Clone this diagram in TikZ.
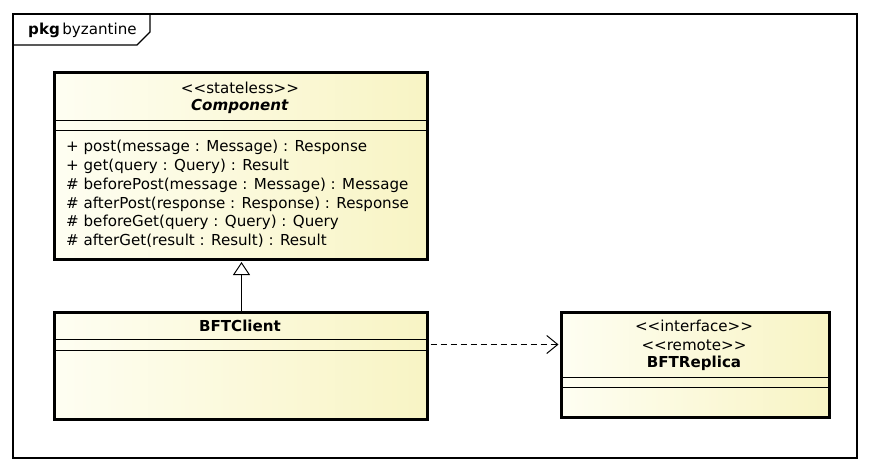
\documentclass[tikz,border=0pt]{standalone}
\usepackage{fontspec}
\setmainfont{DejaVu Sans}
\usetikzlibrary{arrows.meta,positioning}
\definecolor{umlInk}{HTML}{000000}
\definecolor{umlPale}{HTML}{FEFEF2}
\definecolor{umlCream}{HTML}{F8F4C4}
\newcommand{\stereo}[1]{{<}{<}#1{>}{>}}
\tikzset{
  every picture/.style={font=\fontsize{15.1}{18.8}\selectfont, text=umlInk},
  uml class/.style={draw=umlInk, line width=3pt, left color=umlPale,
    right color=umlCream, anchor=north west, inner sep=0pt},
  uml sep/.style={draw=umlInk, line width=0.9pt},
  uml frame/.style={draw=umlInk, line width=1.3pt},
  uml extends/.style={-{Triangle[open,length=13pt,width=17pt]},
    draw=umlInk, line width=1pt},
  uml depends/.style={-{Straight Barb[length=11pt,width=18pt]},
    draw=umlInk, line width=1pt, dash pattern=on 6pt off 4pt},
  uml ops/.style={align=left, anchor=north west, inner sep=0pt}
}

\begin{document}
\begin{tikzpicture}[x=1pt,y=-1pt]
  \useasboundingbox[fill=white] (0,0) rectangle (870,472);
  % package frame and tab
  \draw[uml frame] (13,14) rectangle (857,458);
  \draw[uml frame] (13,45) -- (137,45) -- (150,32) -- (150,14);
  \node[anchor=west, inner sep=0pt] (pkg) at (28,30) {\textbf{pkg}\,byzantine};

  % classes
  \node[uml class, minimum width=373pt, minimum height=187pt] (comp) at (53,71) {};
  \node[uml class, minimum width=373pt, minimum height=107pt] (client) at (53,311) {};
  \node[uml class, minimum width=268pt, minimum height=105pt] (replica) at (560,311) {};

  % Component
  \node (compStereo) at (240,88) {\stereo{stateless}};
  \node (compName) at (240,106) {\textbf{\textit{Component}}};
  \draw[uml sep] ([yshift=-49pt]comp.north west) -- ([yshift=-49pt]comp.north east);
  \draw[uml sep] ([yshift=-59pt]comp.north west) -- ([yshift=-59pt]comp.north east);
  \node[uml ops] (compOps) at (66,140) {%
    + post(message : Message) : Response\\
    + get(query : Query) : Result\\
    \# beforePost(message : Message) : Message\\
    \# afterPost(response : Response) : Response\\
    \# beforeGet(query : Query) : Query\\
    \# afterGet(result : Result) : Result};

  % BFTClient
  \node (clientName) at (240,326) {\textbf{BFTClient}};
  \draw[uml sep] ([yshift=-28pt]client.north west) -- ([yshift=-28pt]client.north east);
  \draw[uml sep] ([yshift=-39pt]client.north west) -- ([yshift=-39pt]client.north east);

  % BFTReplica
  \node (replicaIface) at (694,326) {\stereo{interface}};
  \node (replicaRemote) at (694,345) {\stereo{remote}};
  \node (replicaName) at (694,363) {\textbf{BFTReplica}};
  \draw[uml sep] ([yshift=-66pt]replica.north west) -- ([yshift=-66pt]replica.north east);
  \draw[uml sep] ([yshift=-76pt]replica.north west) -- ([yshift=-76pt]replica.north east);

  % relations
  \draw[uml extends] ([xshift=0.5pt]client.north) -- ([xshift=0.5pt,yshift=-1pt]comp.south);
  \coordinate (dep) at ([yshift=21.5pt]client.east);
  \draw[uml depends] ([xshift=1.5pt]dep) -- ([xshift=-1.5pt]dep -| replica.west);
\end{tikzpicture}
\end{document}
